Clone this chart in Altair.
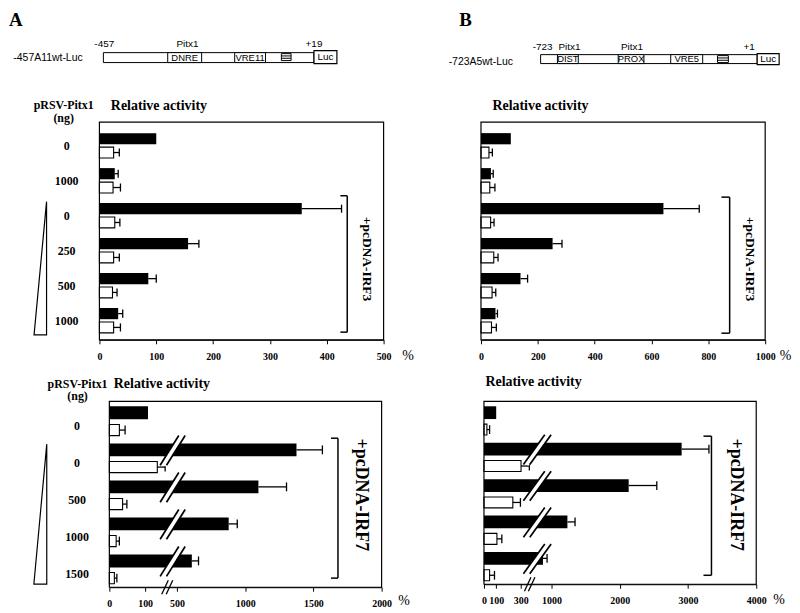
import altair as alt
import pandas as pd

# ================= DATA =================
# Panel A, upper graph (-457A11wt-Luc, +/- pcDNA-IRF3)
a3_labels = ["0", "1000", "0", "250", "500", "1000"]
a3_black = [100, 27, 356, 156, 86, 33]
a3_black_err = [0, 6, 70, 19, 14, 8]
a3_white = [25, 24, 27, 25, 23, 25]
a3_white_err = [10, 13, 9, 10, 8, 12]
a3_ticks = [0, 100, 200, 300, 400, 500]

# Panel B, upper graph (-723A5wt-Luc, +/- pcDNA-IRF3)
b3_black = [105, 35, 642, 252, 139, 51]
b3_black_err = [0, 8, 126, 33, 25, 7]
b3_white = [28, 31, 34, 45, 39, 37]
b3_white_err = [12, 18, 12, 15, 13, 17]
b3_ticks = [0, 200, 400, 600, 800, 1000]

# Panel A, lower graph (+/- pcDNA-IRF7, broken axis)
a7_labels = ["0", "0", "500", "1000", "1500"]
a7_black = [108, 1376, 1097, 879, 609]
a7_black_err = [0, 190, 206, 63, 49]
a7_white = [28, 134, 37, 19, 14]
a7_white_err = [16, 22, 12, 9, 7]
a7_ticks = [0, 100, 500, 1000, 1500, 2000]
a7_axis_break = [160, 456]

# Panel B, lower graph (+/- pcDNA-IRF7, broken axis)
b7_black = [100, 2907, 2131, 1233, 875]
b7_black_err = [0, 400, 412, 112, 60]
b7_white = [24, 303, 236, 106, 46]
b7_white_err = [22, 68, 62, 40, 40]
b7_ticks = [0, 100, 300, 1000, 2000, 3000, 4000]
b7_axis_break = [381, 750]

# Promoter constructs (positions in bp)
a_construct = "-457A11wt-Luc"
a_promoter = [-459, 19]
a_elements = ["DNRE", "VRE11"]
a_elem_start = [-313, -161]
a_elem_end = [-236, -91]
a_tata = [-55, -33]
a_luc = [19, 71]
a_marks = ["-457", "Pitx1", "+19"]
a_mark_pos = [-457, -268, 19]

b_construct = "-723A5wt-Luc"
b_promoter = [-730, 29]
b_elements = ["DIST", "PROX", "VRE5"]
b_elem_start = [-671, -458, -274]
b_elem_end = [-598, -368, -162]
b_tata = [-110, -72]
b_luc = [29, 106]
b_marks = ["-723", "Pitx1", "Pitx1", "+1"]
b_mark_pos = [-723, -629, -410, 1]

# ================= STYLE / LAYOUT =================
SERIF = "Liberation Serif"
SANS = "Liberation Sans"
TOP_GEO = dict(b0=0.0, b1=0.32, w0=0.40, w1=0.71, lab=0.38, cap=0.115)
BOT_GEO = dict(b0=0.0, b1=0.35, w0=0.49, w1=0.79, lab=0.52, cap=0.12)
TOP_YDOM = [-0.3125, 5.909]
BOT_YDOM = [-0.134, 4.886]
CELL_W = 286


def pw_inv(px, dom, rng):
    n = len(rng)
    for k in range(n - 1):
        if px <= rng[k + 1] or k == n - 2:
            return dom[k] + (px - rng[k]) * (dom[k + 1] - dom[k]) / (rng[k + 1] - rng[k])


def bar_panel(c):
    g = c["geo"]
    n = len(c["black"])
    dom = c["dom"]
    rng = c.get("rng") or [0, CELL_W]
    xs = alt.Scale(domain=dom, range=rng, zero=False, nice=False)
    ys = alt.Scale(domain=c["ydom"], zero=False, nice=False, reverse=True)
    pitch = c["height"] / (c["ydom"][1] - c["ydom"][0])

    def X(f):
        return alt.X(f, type="quantitative", scale=xs, axis=None)

    def Y(f):
        return alt.Y(f, type="quantitative", scale=ys, axis=None)

    df = pd.DataFrame({"row": list(range(n)), "black": c["black"], "berr": c["black_err"],
                       "white": c["white"], "werr": c["white_err"]})
    df["zero"] = 0
    df["yb0"] = df["row"] + g["b0"]
    df["yb1"] = df["row"] + g["b1"]
    df["yw0"] = df["row"] + g["w0"]
    df["yw1"] = df["row"] + g["w1"]
    df["ybc"] = (df["yb0"] + df["yb1"]) / 2
    df["ywc"] = (df["yw0"] + df["yw1"]) / 2
    df["bhi"] = df["black"] + df["berr"]
    df["whi"] = df["white"] + df["werr"]
    df["bc0"] = df["ybc"] - g["cap"]
    df["bc1"] = df["ybc"] + g["cap"]
    df["wc0"] = df["ywc"] - g["cap"]
    df["wc1"] = df["ywc"] + g["cap"]

    xaxis = alt.Axis(values=c["ticks"], format="d", title="%", titleX=c["pct"][0], titleY=c["pct"][1],
                     titleAngle=0, titleAlign="center", titleBaseline="middle", titleFont=SERIF,
                     titleFontSize=14, titleFontWeight="normal", titleColor="black",
                     labelFont=SERIF, labelFontSize=10, labelFontWeight="bold", labelColor="black",
                     labelFlush=False, labelOverlap=False, labelPadding=c["lpad"], tickSize=4,
                     tickColor="black", domainColor="black", grid=False)

    top = alt.Chart(df).mark_point(opacity=0).encode(
        x=alt.X("zero:Q", scale=xs, axis=alt.Axis(orient="top", title="Relative activity", labels=False,
                                                   ticks=False, domain=False, grid=False,
                                                   titleX=c["title"][0], titleY=c["title"][1],
                                                   titleAlign="left", titleBaseline="middle", titleFont=SERIF,
                                                   titleFontSize=14, titleFontWeight="bold", titleColor="black")),
        y=Y("yb0"))
    frame = alt.Chart(pd.DataFrame({"x": [dom[0]], "x2": [dom[-1]], "y": [c["ydom"][0]],
                                    "y2": [c["ydom"][1]]})).mark_rect(
        fillOpacity=0, stroke="black", strokeWidth=1.2).encode(x=X("x"), x2="x2:Q", y=Y("y"), y2="y2:Q")
    black = alt.Chart(df).mark_rect(color="black").encode(
        x=alt.X("zero:Q", scale=xs, axis=xaxis), x2="black:Q",
        y=Y("yb0"), y2="yb1:Q")
    white = alt.Chart(df).mark_rect(fill="white", stroke="black", strokeWidth=1.1).encode(
        x=X("zero"), x2="white:Q", y=Y("yw0"), y2="yw1:Q")
    dfb = df[df["berr"] > 0]
    eb = alt.Chart(dfb).mark_rule(color="black", strokeWidth=1.3).encode(x=X("black"), x2="bhi:Q", y=Y("ybc"))
    cb = alt.Chart(dfb).mark_rule(color="black", strokeWidth=1.3).encode(x=X("bhi"), y=Y("bc0"), y2="bc1:Q")
    ew = alt.Chart(df).mark_rule(color="black", strokeWidth=1.3).encode(x=X("white"), x2="whi:Q", y=Y("ywc"))
    cw = alt.Chart(df).mark_rule(color="black", strokeWidth=1.3).encode(x=X("whi"), y=Y("wc0"), y2="wc1:Q")
    layers = [top, black, white, eb, cb, ew, cw, frame]

    def segs(df_, width, color="black"):
        return alt.Chart(df_).mark_rule(color=color, strokeWidth=width).encode(
            x=X("x"), x2="x2:Q", y=Y("y"), y2="y2:Q")

    # row labels and the "pRSV-Pitx1 (ng)" heading, left of the frame
    if c.get("labels"):
        lx = pw_inv(c["lab_px"], dom, rng)
        lab = pd.DataFrame({"x": [lx] * n, "y": [i + g["lab"] for i in range(n)], "t": c["labels"]})
        layers.append(alt.Chart(lab).mark_text(font=SERIF, fontSize=12, fontWeight="bold", align="center",
                                               baseline="middle", color="black").encode(
            x=X("x"), y=Y("y"), text="t:N"))
        hx = pw_inv(c["head_px"][0], dom, rng)
        y0 = c["ydom"][0] + c["head_px"][1] / pitch
        head = pd.DataFrame({"x": [hx, hx], "y": [y0, y0 + 13 / pitch], "t": ["pRSV-Pitx1", "(ng)"]})
        layers.append(alt.Chart(head).mark_text(font=SERIF, fontSize=12, fontWeight="bold", align="center",
                                                baseline="middle", color="black").encode(
            x=X("x"), y=Y("y"), text="t:N"))

    b = c["bracket"]
    br = pd.DataFrame({"x": [b["x"], b["xt"], b["xt"]], "x2": [b["x"], b["x"], b["x"]],
                       "y": [b["y0"], b["y0"], b["y1"]], "y2": [b["y1"], b["y0"], b["y1"]]})
    layers.append(segs(br, 1.5))
    t = c["btext"]
    layers.append(alt.Chart(pd.DataFrame({"x": [t["x"]], "y": [t["y"]], "t": [t["text"]]})).mark_text(
        angle=90, font=SERIF, fontSize=t["size"], fontWeight="bold", align="center", baseline="middle",
        color="black").encode(x=X("x"), y=Y("y"), text="t:N"))
    if c.get("tri"):
        tr = c["tri"]
        tri = pd.DataFrame({"x": [tr["x1"], tr["x1"], tr["x0"], tr["x1"]],
                            "y": [tr["y0"], tr["y1"], tr["y1"], tr["y0"]], "o": [0, 1, 2, 3]})
        layers.append(alt.Chart(tri).mark_line(color="black", strokeWidth=1.2).encode(
            x=X("x"), y=Y("y"), order="o:Q"))
    if c.get("breaks"):
        bk = c["breaks"]
        yc_off = (g["b0"] + g["b1"]) / 2
        rows = [i for i in range(n) if c["black"][i] > dom[2]]

        def bar_breaks(offsets):
            recs = []
            for i in rows:
                yc = i + yc_off
                yt = i - 8 / pitch
                yb = i + g["b1"] + 9 / pitch
                for off in offsets:
                    xt = bk["center"] + off + (yc - yt) * pitch * bk["slope"]
                    xb = bk["center"] + off - (yb - yc) * pitch * bk["slope"]
                    recs.append(dict(x=pw_inv(xb, dom, rng), y=yb, x2=pw_inv(xt, dom, rng), y2=yt))
            return pd.DataFrame(recs)

        layers.append(segs(bar_breaks([0]), 5, "white"))
        layers.append(segs(bar_breaks([-3.2, 3.2]), 1.7))
        ya = c["ydom"][1]
        dy = 7 / pitch
        recs = []
        for cx in bk["axis"]:
            recs.append(dict(x=pw_inv(cx - 3.3, dom, rng), y=ya + dy, x2=pw_inv(cx + 3.3, dom, rng), y2=ya - dy))
        layers.append(segs(pd.DataFrame(recs), 1.3))

    return alt.layer(*layers).resolve_axis(x="independent").properties(
        width=CELL_W, height=c["height"], view=alt.ViewBackground(stroke="transparent"))


def diagram(c):
    xs = alt.Scale(domain=c["dom"], zero=False, nice=False)
    ys = alt.Scale(domain=[0, 20], zero=False, nice=False, reverse=True)

    def X(f):
        return alt.X(f, type="quantitative", scale=xs, axis=None)

    def Y(f):
        return alt.Y(f, type="quantitative", scale=ys, axis=None)

    y0, y1 = c["box"]

    def rect(d, sw=1):
        return alt.Chart(d).mark_rect(fill="white", stroke="black", strokeWidth=sw).encode(
            x=X("x"), x2="x2:Q", y=Y("y"), y2="y2:Q")

    def txt(d, **kw):
        return alt.Chart(d).mark_text(color="black", **kw).encode(
            x=X("xm" if "xm" in d else "x"), y=Y("ym" if "ym" in d else "y"), text="t:N")

    prom = pd.DataFrame({"x": [c["promoter"][0]], "x2": [c["promoter"][1]], "y": [y0], "y2": [y1]})
    el = pd.DataFrame({"x": c["es"], "x2": c["ee"], "y": [y0] * len(c["es"]), "y2": [y1] * len(c["es"]),
                       "t": c["elements"]})
    el["xm"] = (el["x"] + el["x2"]) / 2
    el["ym"] = (y0 + y1) / 2
    ta0, ta1 = c["tata_y"]
    tata = pd.DataFrame({"x": [c["tata"][0]], "x2": [c["tata"][1]], "y": [ta0], "y2": [ta1]})
    tl = pd.DataFrame({"x": [c["tata"][0]] * 2, "x2": [c["tata"][1]] * 2,
                       "y": [ta0 + (ta1 - ta0) / 3, ta0 + 2 * (ta1 - ta0) / 3]})
    l0, l1 = c["luc_y"]
    luc = pd.DataFrame({"x": [c["luc"][0]], "x2": [c["luc"][1]], "y": [l0], "y2": [l1],
                        "xm": [(c["luc"][0] + c["luc"][1]) / 2], "ym": [(l0 + l1) / 2], "t": ["Luc"]})
    marks = pd.DataFrame({"x": c["mark_pos"], "y": [c["mark_y"]] * len(c["mark_pos"]), "t": c["marks"]})
    name = pd.DataFrame({"x": [c["name_x"]], "y": [c["name_y"]], "t": [c["name"]]})
    letter = pd.DataFrame({"x": [c["letter_x"]], "y": [-30], "t": [c["letter"]]})
    layers = [
        rect(prom), rect(el), txt(el, font=SANS, fontSize=9.5, align="center", baseline="middle"),
        rect(tata),
        alt.Chart(tl).mark_rule(color="black", strokeWidth=1).encode(x=X("x"), x2="x2:Q", y=Y("y")),
        rect(luc, 1.2), txt(luc, font=SANS, fontSize=10, align="center", baseline="middle"),
        txt(marks, font=SANS, fontSize=10, align="center", baseline="middle"),
        txt(name, font=SANS, fontSize=10.5, align="right", baseline="middle"),
        txt(letter, font=SERIF, fontSize=19, fontWeight="bold", align="left", baseline="top"),
    ]
    return alt.layer(*layers).properties(width=CELL_W, height=20,
                                         view=alt.ViewBackground(stroke="transparent"))


diagA = diagram(dict(dom=[-468, 177], box=[12, 22], promoter=a_promoter, elements=a_elements,
                     es=a_elem_start, ee=a_elem_end, tata=a_tata, tata_y=[13, 20], luc=a_luc, luc_y=[10, 23],
                     marks=a_marks, mark_pos=a_mark_pos, mark_y=3.5, name=a_construct, name_x=-506,
                     name_y=17.5, letter="A", letter_x=-673))
diagB = diagram(dict(dom=[-939, 57], box=[14, 23], promoter=b_promoter, elements=b_elements,
                     es=b_elem_start, ee=b_elem_end, tata=b_tata, tata_y=[15, 22], luc=b_luc, luc_y=[13, 24],
                     marks=b_marks, mark_pos=b_mark_pos, mark_y=6, name=b_construct, name_x=-827,
                     name_y=21, letter="B", letter_x=-1015))

a3 = bar_panel(dict(black=a3_black, black_err=a3_black_err, white=a3_white, white_err=a3_white_err,
                    dom=[0, 500], height=219, ydom=TOP_YDOM, geo=TOP_GEO, ticks=a3_ticks,
                    pct=(310, 16), lpad=8, title=(11, -17), labels=a3_labels, lab_px=-33,
                    head_px=(-36, -17),
                    bracket=dict(x=436, xt=424, y0=1.79, y1=5.69),
                    btext=dict(text="+pcDNA-IRF3", x=470, y=3.6, size=13.5),
                    tri=dict(x0=-115, x1=-93, y0=1.96, y1=5.77)))
b3 = bar_panel(dict(black=b3_black, black_err=b3_black_err, white=b3_white, white_err=b3_white_err,
                    dom=[0, 1000], height=219, ydom=TOP_YDOM, geo=TOP_GEO, ticks=b3_ticks,
                    pct=(306, 16), lpad=8, title=(11, -17),
                    bracket=dict(x=875, xt=846, y0=1.83, y1=5.72),
                    btext=dict(text="+pcDNA-IRF3", x=946, y=3.6, size=13.5)))
a7 = bar_panel(dict(black=a7_black, black_err=a7_black_err, white=a7_white, white_err=a7_white_err,
                    dom=[0, a7_axis_break[0], a7_axis_break[1], 2000], rng=[10, 67.6, 72, 284],
                    height=187, ydom=BOT_YDOM, geo=BOT_GEO, ticks=a7_ticks,
                    pct=(306, 13.5), lpad=7, title=(14, -18), labels=a7_labels, lab_px=-22.5,
                    head_px=(-22, -18),
                    bracket=dict(x=1680, xt=1629, y0=0.86, y1=4.64),
                    btext=dict(text="+pcDNA-IRF7", x=1850, y=2.39, size=18),
                    tri=dict(x0=-211, x1=-175, y0=1.02, y1=4.8),
                    breaks=dict(center=74, slope=0.625, axis=[66, 70.5])))
b7 = bar_panel(dict(black=b7_black, black_err=b7_black_err, white=b7_white, white_err=b7_white_err,
                    dom=[0, b7_axis_break[0], b7_axis_break[1], 4000], rng=[3, 49.9, 53.8, 277],
                    height=184, ydom=BOT_YDOM, geo=BOT_GEO, ticks=b7_ticks,
                    pct=(299.5, 15), lpad=7, title=(4, -20),
                    bracket=dict(x=3344, xt=3227, y0=0.82, y1=4.64),
                    btext=dict(text="+pcDNA-IRF7", x=3700, y=2.43, size=18),
                    breaks=dict(center=57, slope=0.72, axis=[47, 51])))

chart = alt.concat(
    diagA, diagB, a3, b3, a7, b7,
    columns=2, spacing={"row": 62, "column": 98}, bounds="flush",
    align="each", padding=0,
).configure_view(stroke="black", strokeWidth=1.2).configure_axis(grid=False)

chart.save("out.html", embed_options={"renderer": "svg", "actions": False})
